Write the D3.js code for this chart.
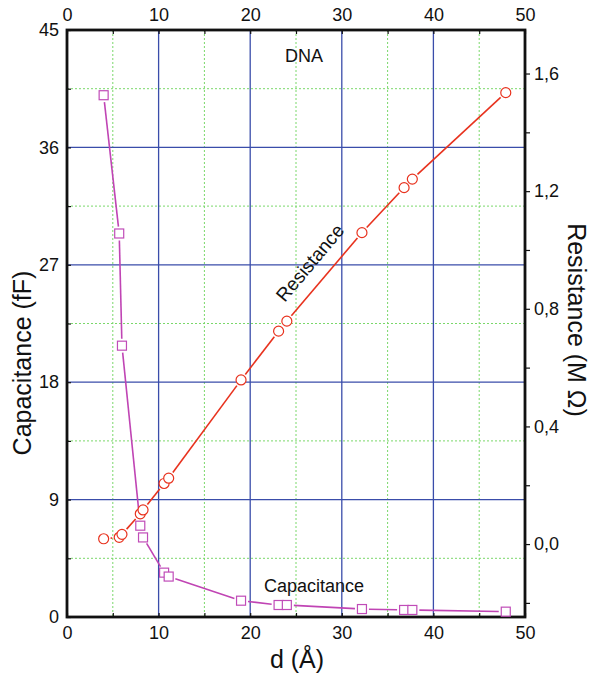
<!DOCTYPE html>
<html>
<head>
<meta charset="utf-8">
<script src="https://cdn.jsdelivr.net/npm/d3@7"></script>
<style>
    body { margin: 0; background: #fff; }
    text { font-family: "Liberation Sans", Arial, sans-serif; fill: #111; }
</style>
</head>
<body>
<div id="chart"></div>
<script>
// distance d (Å) shared by both series
const dist = [4.0, 5.7, 6.0, 8.0, 8.3, 10.6, 11.1, 19.0, 23.1, 24.0, 32.2, 36.8, 37.7, 47.9];
// capacitance (fF)
const cap = [40.0, 29.4, 20.8, 7.0, 6.1, 3.4, 3.1, 1.25, 0.92, 0.92, 0.61, 0.54, 0.54, 0.41];
// resistance (M Ω)
const res = [0.018, 0.023, 0.033, 0.103, 0.116, 0.206, 0.224, 0.558, 0.724, 0.758, 1.059, 1.212, 1.241, 1.535];

const xTicks = [0, 10, 20, 30, 40, 50];
const xMinor = [5, 15, 25, 35, 45];
const capTicks = [0, 9, 18, 27, 36, 45];
const capMinor = [4.5, 13.5, 22.5, 31.5, 40.5];
const resTicks = [0.0, 0.4, 0.8, 1.2, 1.6];
const resMinor = [-0.2, 0.2, 0.6, 1.0, 1.4];

const chartWidth = 594;
const chartHeight = 680;
const plotLeft = 67, plotRight = 525, plotTop = 30, plotBottom = 617;

const svg = d3.select('#chart')
    .append('svg')
    .attr('width', chartWidth)
    .attr('height', chartHeight);

const xScale = d3.scaleLinear().domain([0, 50]).range([plotLeft, plotRight]);
const capScale = d3.scaleLinear().domain([0, 45]).range([plotBottom, plotTop]);
const resScale = d3.scaleLinear().domain([-0.248, 1.748]).range([plotBottom, plotTop]);

// grid
const grid = svg.append('g');
grid.selectAll('.gx-minor').data(xMinor).enter().append('line')
    .attr('x1', d => xScale(d)).attr('x2', d => xScale(d))
    .attr('y1', plotTop).attr('y2', plotBottom)
    .attr('stroke', '#7ad86a').attr('stroke-width', 1).attr('stroke-dasharray', '2,2');
grid.selectAll('.gy-minor').data(capMinor).enter().append('line')
    .attr('y1', d => capScale(d)).attr('y2', d => capScale(d))
    .attr('x1', plotLeft).attr('x2', plotRight)
    .attr('stroke', '#7ad86a').attr('stroke-width', 1).attr('stroke-dasharray', '2,2');
grid.selectAll('.gx').data(xTicks.slice(1, -1)).enter().append('line')
    .attr('x1', d => xScale(d)).attr('x2', d => xScale(d))
    .attr('y1', plotTop).attr('y2', plotBottom)
    .attr('stroke', '#3a4daa').attr('stroke-width', 1.3);
grid.selectAll('.gy').data(capTicks.slice(1, -1)).enter().append('line')
    .attr('y1', d => capScale(d)).attr('y2', d => capScale(d))
    .attr('x1', plotLeft).attr('x2', plotRight)
    .attr('stroke', '#3a4daa').attr('stroke-width', 1.3);

// axes
function styleAxis(g) {
    g.select('.domain').remove();
    g.selectAll('.tick line').attr('stroke', '#111').attr('stroke-width', 1.2);
    g.selectAll('.tick text')
        .style('font-family', '"Liberation Sans", Arial, sans-serif')
        .style('font-size', '18px')
        .attr('fill', '#111');
}

svg.append('g')
    .attr('transform', 'translate(0,' + plotBottom + ')')
    .call(d3.axisBottom(xScale).tickValues(xTicks.concat(xMinor))
        .tickSize(-4).tickPadding(9)
        .tickFormat(d => xTicks.includes(d) ? d : ''))
    .call(styleAxis);

svg.append('g')
    .attr('transform', 'translate(0,' + plotTop + ')')
    .call(d3.axisTop(xScale).tickValues(xTicks.concat(xMinor))
        .tickSize(-4).tickPadding(9)
        .tickFormat(d => xTicks.includes(d) ? d : ''))
    .call(styleAxis);

svg.append('g')
    .attr('transform', 'translate(' + plotLeft + ',0)')
    .call(d3.axisLeft(capScale).tickValues(capTicks.concat(capMinor))
        .tickSize(-4).tickPadding(8)
        .tickFormat(d => capTicks.includes(d) ? d : ''))
    .call(styleAxis);

svg.append('g')
    .attr('transform', 'translate(' + plotRight + ',0)')
    .call(d3.axisRight(resScale).tickValues(resTicks.concat(resMinor))
        .tickSize(5).tickPadding(4)
        .tickFormat(d => resTicks.includes(d) ? d.toFixed(1).replace('.', ',') : ''))
    .call(styleAxis);

// frame
svg.append('rect')
    .attr('x', plotLeft).attr('y', plotTop)
    .attr('width', plotRight - plotLeft).attr('height', plotBottom - plotTop)
    .attr('fill', 'none').attr('stroke', '#111').attr('stroke-width', 2.8);

// series lines with gaps around markers
function gappedSegments(g, ys, scale, color, gap) {
    const pts = dist.map((d, i) => [xScale(d), scale(ys[i])]);
    for (let i = 0; i < pts.length - 1; i++) {
        const [x1, y1] = pts[i];
        const [x2, y2] = pts[i + 1];
        const len = Math.hypot(x2 - x1, y2 - y1);
        if (len <= gap * 2) continue;
        const ux = (x2 - x1) / len, uy = (y2 - y1) / len;
        g.append('line')
            .attr('x1', x1 + ux * gap).attr('y1', y1 + uy * gap)
            .attr('x2', x2 - ux * gap).attr('y2', y2 - uy * gap)
            .attr('stroke', color).attr('stroke-width', 1.6);
    }
}

const lines = svg.append('g');
gappedSegments(lines, cap, capScale, '#c044b4', 7);
gappedSegments(lines, res, resScale, '#e8321e', 7);

svg.append('g')
    .selectAll('circle')
    .data(dist)
    .enter()
    .append('circle')
    .attr('cx', d => xScale(d))
    .attr('cy', (d, i) => resScale(res[i]))
    .attr('r', 5)
    .attr('fill', '#fff')
    .attr('stroke', '#e8321e')
    .attr('stroke-width', 1.2);

svg.append('g')
    .selectAll('rect')
    .data(dist)
    .enter()
    .append('rect')
    .attr('x', d => xScale(d) - 4.5)
    .attr('y', (d, i) => capScale(cap[i]) - 4.5)
    .attr('width', 9)
    .attr('height', 9)
    .attr('fill', '#fff')
    .attr('stroke', '#c04cb8')
    .attr('stroke-width', 1.2);

// annotations
svg.append('text').attr('x', 304).attr('y', 62)
    .attr('text-anchor', 'middle').style('font-size', '18px').text('DNA');
svg.append('text').attr('x', 314).attr('y', 592)
    .attr('text-anchor', 'middle').style('font-size', '18px').text('Capacitance');
svg.append('text')
    .attr('transform', 'translate(315,267) rotate(-50)')
    .attr('text-anchor', 'middle').style('font-size', '19px').text('Resistance');

// axis titles
svg.append('text').attr('x', 297).attr('y', 668)
    .attr('text-anchor', 'middle').style('font-size', '25px').text('d (Å)');
svg.append('text')
    .attr('transform', 'translate(31,363) rotate(-90)')
    .attr('text-anchor', 'middle').style('font-size', '25px').text('Capacitance (fF)');
svg.append('text')
    .attr('transform', 'translate(568,320) rotate(90)')
    .attr('text-anchor', 'middle').style('font-size', '25px').text('Resistance (M Ω)');
</script>
</body>
</html>
